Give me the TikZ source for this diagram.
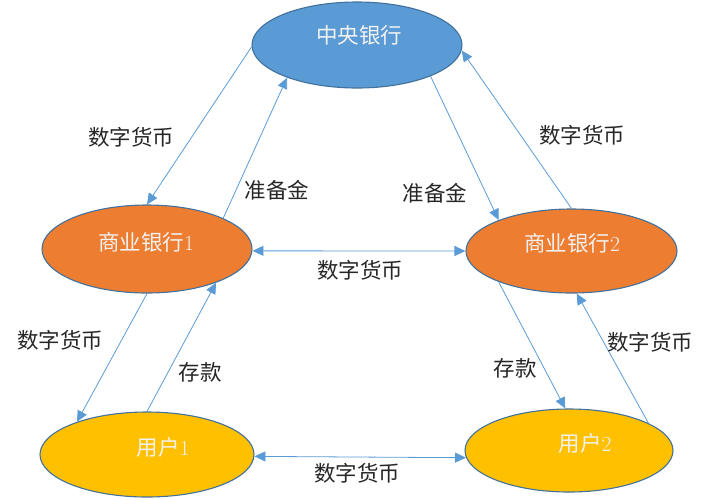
\documentclass[tikz,border=0pt]{standalone}
\usepackage{fontspec}
\newfontfamily\cjk{Noto Sans CJK SC}
\usetikzlibrary{arrows.meta,shapes.geometric}
\definecolor{cbblue}{HTML}{5B9BD5}
\definecolor{edgeblue}{HTML}{41719C}
\definecolor{bankorange}{HTML}{ED7D31}
\definecolor{usergold}{HTML}{FFC000}
\definecolor{arrowblue}{HTML}{5B9BD5}
\tikzset{
  oval/.style={ellipse, draw=edgeblue, line width=1.1pt, inner sep=0pt},
  ovaltext/.style={text=white!95!black, font=\fontsize{21.5}{24}\selectfont\cjk, inner sep=0pt},
  lbl/.style={text=black!85, font=\fontsize{21.5}{24}\selectfont\cjk, inner sep=0pt},
  flow/.style={draw=arrowblue, line width=0.8pt, -{Triangle[length=11pt,width=10pt]}},
  flow2/.style={draw=arrowblue, line width=0.8pt, {Triangle[length=11pt,width=10pt]}-{Triangle[length=11pt,width=10pt]}}
}
\begin{document}
\begin{tikzpicture}[x=1pt,y=-1pt]
\useasboundingbox (0,0) rectangle (720,499);
% ellipses
\node[oval, fill=cbblue, minimum width=210pt, minimum height=86pt] (cb) at (357,45) {};
\node[oval, fill=bankorange, minimum width=210pt, minimum height=88pt] (b1) at (147,249) {};
\node[oval, fill=bankorange, minimum width=211pt, minimum height=84pt] (b2) at (571.5,251) {};
\node[oval, fill=usergold, minimum width=214pt, minimum height=85pt] (u1) at (147,454.5) {};
\node[oval, fill=usergold, minimum width=208pt, minimum height=83pt] (u2) at (569,450.5) {};
% ellipse texts
\node[ovaltext] (tcb) at (359,35) {中央银行};
\node[ovaltext] (tb1) at (146,242) {商业银行\rmfamily 1};
\node[ovaltext] (tb2) at (572,243) {商业银行\rmfamily 2};
\node[ovaltext] (tu1) at (163,447) {用户\rmfamily 1};
\node[ovaltext] (tu2) at (585,443) {用户\rmfamily 2};
% connectors
\draw[flow] (cb.181) -- (b1.90);
\draw[flow] (b1.22.5) -- (cb.205.3);
\draw[flow] (cb.337) -- (b2.157.4);
\draw[flow] (b2.90) -- (cb.357);
\draw[flow2] (b1.359) -- (b2.180);
\draw[flow] (b1.270) -- (u1.155.7);
\draw[flow] (u1.90) -- (b1.334);
\draw[flow] (b2.203.5) -- (u2.95);
\draw[flow] (u2.19.3) -- (b2.277);
\draw[flow2] (u1.359) -- (u2.184);
% labels
\node[lbl] (l1) at (131,137) {数字货币};
\node[lbl] (l2) at (277,190) {准备金};
\node[lbl] (l3) at (435,193) {准备金};
\node[lbl] (l4) at (582,135) {数字货币};
\node[lbl] (l5) at (360,270) {数字货币};
\node[lbl] (l6) at (60,340) {数字货币};
\node[lbl] (l7) at (200,372) {存款};
\node[lbl] (l8) at (515,368) {存款};
\node[lbl] (l9) at (650,342) {数字货币};
\node[lbl] (l10) at (357,473) {数字货币};
\end{tikzpicture}
\end{document}
